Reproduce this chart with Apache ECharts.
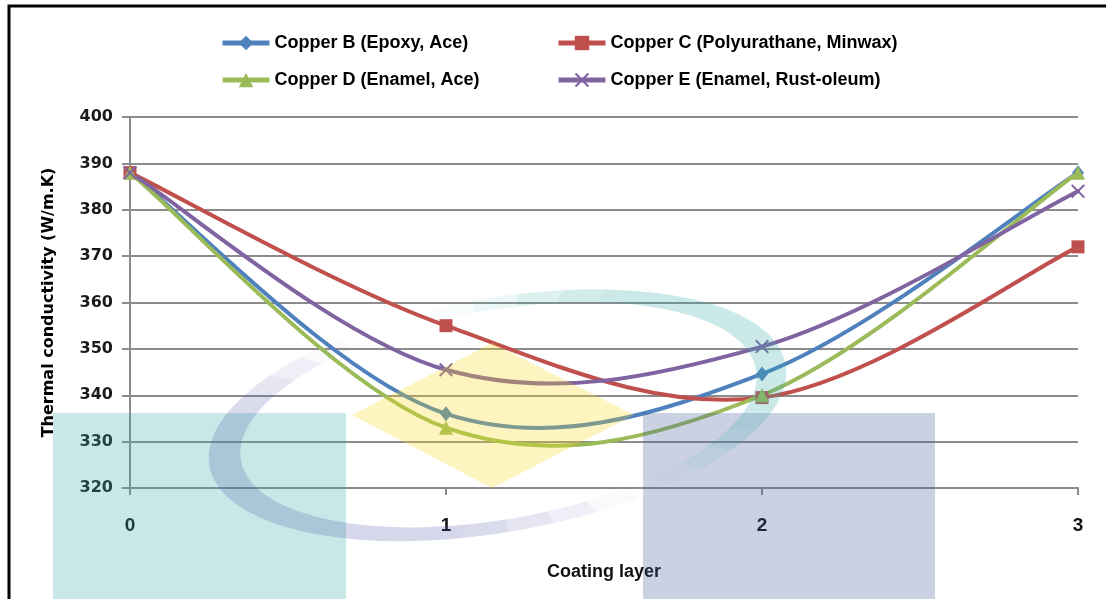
<!DOCTYPE html>
<html>
<head>
<meta charset="utf-8">
<title>Thermal conductivity vs coating layer</title>
<script src="https://cdn.jsdelivr.net/npm/echarts@6/dist/echarts.min.js"></script>
<style>
  html, body { margin: 0; padding: 0; background: #fff; }
  #chart { width: 1106px; height: 599px; }
</style>
</head>
<body>
<div id="chart"></div>
<script>
// Coating layers on the x axis
const layers = [0, 1, 2, 3];

// Thermal conductivity (W/m.K) per coating layer
const copperB = [388, 336, 344.6, 388];   // Epoxy, Ace
const copperC = [388, 355, 339.5, 372];   // Polyurathane, Minwax
const copperD = [388, 333, 340, 388];     // Enamel, Ace
const copperE = [388, 345.5, 350.5, 384]; // Enamel, Rust-oleum

const seriesNames = [
  'Copper B (Epoxy, Ace)',
  'Copper C (Polyurathane, Minwax)',
  'Copper D (Enamel, Ace)',
  'Copper E (Enamel, Rust-oleum)'
];

const yTicks = { min: 320, max: 400, step: 10 };

const colors = ['#4F81BD', '#C0504D', '#9BBB59', '#8064A2'];
const sans = "'Liberation Sans', Arial, sans-serif";
const heavy = "'DejaVu Sans', Verdana, sans-serif";

const crossSymbol = 'path://M0,1L1,0L5,4L9,0L10,1L6,5L10,9L9,10L5,6L1,10L0,9L4,5Z';
const symbols = ['diamond', 'rect', 'triangle', crossSymbol];
const symbolSizes = [[12, 15], 13, 14, 14];

const values = [copperB, copperC, copperD, copperE];

// Spreadsheet-style smoothing: cubic Bezier segments whose tangents follow the
// neighbouring points (curves may dip past a marker, as in office charts).
const TENSION = 0.17;
function smoothSegment(vals, i, api, color) {
  const n = layers.length;
  const clampIdx = k => Math.max(0, Math.min(n - 1, k));
  const p = k => api.coord([layers[clampIdx(k)], vals[clampIdx(k)]]);
  const p0 = p(i - 1), p1 = p(i), p2 = p(i + 1), p3 = p(i + 2);
  return {
    type: 'bezierCurve',
    shape: {
      x1: p1[0], y1: p1[1],
      x2: p2[0], y2: p2[1],
      cpx1: p1[0] + (p2[0] - p0[0]) * TENSION,
      cpy1: p1[1] + (p2[1] - p0[1]) * TENSION,
      cpx2: p2[0] - (p3[0] - p1[0]) * TENSION,
      cpy2: p2[1] - (p3[1] - p1[1]) * TENSION
    },
    style: { fill: null, stroke: color, lineWidth: 4, lineCap: 'round' }
  };
}

const curveSeries = values.map((vals, s) => ({
  type: 'custom',
  name: seriesNames[s] + ' curve',
  data: layers.slice(0, -1).map((x, k) => [x, vals[k]]),
  encode: { x: 0, y: 1 },
  renderItem: (params, api) => smoothSegment(vals, params.dataIndex, api, colors[s]),
  silent: true,
  z: 2 + s
}));

// Markers (and legend entries) for each copper sample
const markerSeries = values.map((vals, i) => ({
  name: seriesNames[i],
  type: 'line',
  data: layers.map((x, k) => [x, vals[k]]),
  symbol: symbols[i],
  symbolSize: symbolSizes[i],
  showAllSymbol: true,
  lineStyle: { color: colors[i], width: 4, opacity: 0 },
  itemStyle: { color: colors[i], borderWidth: 0 },
  emphasis: { disabled: true },
  z: 10 + i
}));

const legendPos = [
  { left: 220, top: 34 },
  { left: 556, top: 34 },
  { left: 220, top: 71 },
  { left: 556, top: 71 }
];

const legends = seriesNames.map((name, i) => ({
  data: [name],
  left: legendPos[i].left,
  top: legendPos[i].top,
  padding: 0,
  itemWidth: 47,
  itemHeight: 18,
  selectedMode: false,
  lineStyle: { width: 5, opacity: 1 },
  textStyle: { fontFamily: sans, fontWeight: 'bold', fontSize: 18, color: '#000' }
}));

// Faint emblem laid over the plot area
const deg = Math.PI / 180;
const ring = { x: 498, y: 415, r: 277, scaleY: 0.40, rotation: 10 * deg };
function ringArc(a0, a1, rgba, width) {
  return {
    type: 'arc', x: ring.x, y: ring.y, scaleY: ring.scaleY, rotation: ring.rotation,
    shape: { cx: 0, cy: 0, r: ring.r, startAngle: a0 * deg, endAngle: a1 * deg },
    style: { fill: null, stroke: rgba, lineWidth: width, lineCap: 'butt' }
  };
}
// A band of the ring with tapered ends
function ringBand(from, to, rgb, peak, fadeLen, width) {
  const out = [];
  const k = 4;
  for (let s = 0; s < k; s++) {
    const a = peak * (s + 0.5) / k;
    const c = 'rgba(' + rgb + ',' + a.toFixed(3) + ')';
    out.push(ringArc(from + fadeLen * s / k, from + fadeLen * (s + 1) / k, c, width));
    out.push(ringArc(to - fadeLen * (s + 1) / k, to - fadeLen * s / k, c, width));
  }
  out.push(ringArc(from + fadeLen, to - fadeLen, 'rgba(' + rgb + ',' + peak + ')', width));
  return out;
}

const emblem = [
  { type: 'rect', shape: { x: 53, y: 413, width: 293, height: 190 },
    style: { fill: 'rgba(57,171,171,0.28)' } },
  { type: 'rect', shape: { x: 643, y: 413, width: 292, height: 190 },
    style: { fill: 'rgba(66,91,155,0.28)' } },
  { type: 'polygon', shape: { points: [[352, 415], [492, 343], [634, 415], [492, 488]] },
    style: { fill: 'rgba(248,216,30,0.28)' } }
].concat(
  ringBand(65, 240, '80,90,170', 0.24, 36, 32),
  ringBand(260, 418, '57,171,171', 0.26, 36, 30)
).map(el => Object.assign({ silent: true, z: 100 }, el));

const frame = {
  type: 'rect', silent: true, z: 101,
  shape: { x: 9, y: 6, width: 1300, height: 800 },
  style: { fill: null, stroke: '#000', lineWidth: 3 }
};

const option = {
  animation: false,
  backgroundColor: '#fff',
  color: colors,
  legend: legends,
  grid: { left: 130, right: 28, top: 117, bottom: 111, containLabel: false },
  xAxis: {
    type: 'value',
    min: layers[0],
    max: layers[layers.length - 1],
    interval: 1,
    name: 'Coating layer',
    nameLocation: 'middle',
    nameGap: 75,
    nameTextStyle: { fontFamily: sans, fontWeight: 'bold', fontSize: 18, color: '#111' },
    axisLine: { show: true, lineStyle: { color: '#8c8c8c', width: 2 } },
    axisTick: { show: true, length: 7, inside: false, lineStyle: { color: '#8c8c8c', width: 2 } },
    axisLabel: { margin: 28, fontFamily: sans, fontWeight: 'bold', fontSize: 19, color: '#111' },
    splitLine: { show: false }
  },
  yAxis: {
    type: 'value',
    min: yTicks.min,
    max: yTicks.max,
    interval: yTicks.step,
    name: 'Thermal conductivity (W/m.K)',
    nameLocation: 'middle',
    nameGap: 73,
    nameRotate: 90,
    nameTextStyle: { fontFamily: heavy, fontWeight: 'bold', fontSize: 16, color: '#000' },
    axisLine: { show: true, lineStyle: { color: '#8c8c8c', width: 2 } },
    axisTick: { show: true, length: 8, inside: false, lineStyle: { color: '#8c8c8c', width: 2 } },
    axisLabel: { margin: 17, fontFamily: heavy, fontWeight: 'bold', fontSize: 16, color: '#1a1a1a' },
    splitLine: { show: true, lineStyle: { color: '#8c8c8c', width: 2 } }
  },
  graphic: emblem.concat([frame]),
  series: curveSeries.concat(markerSeries)
};

const chart = echarts.init(document.getElementById('chart'), null, { renderer: 'canvas' });
chart.setOption(option);
</script>
</body>
</html>
